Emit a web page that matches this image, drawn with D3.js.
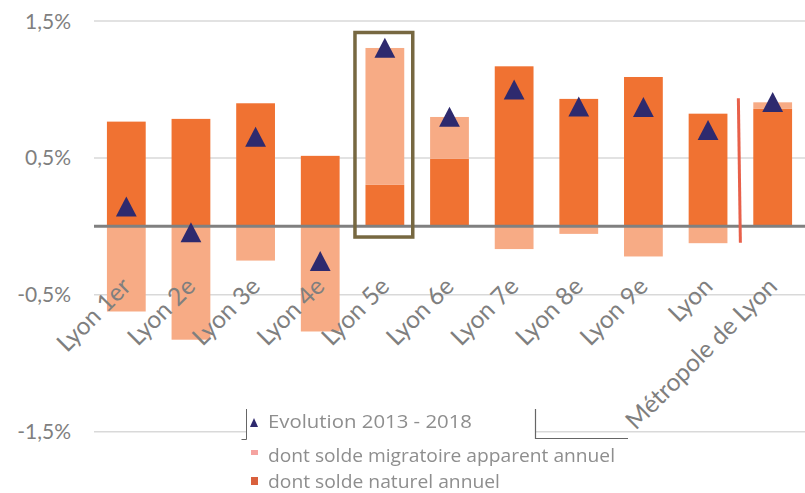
<!doctype html>
<html lang="fr">
<head>
<meta charset="utf-8" />
<title>Évolution de la population 2013 - 2018</title>
<script src="https://cdn.jsdelivr.net/npm/d3@7/dist/d3.min.js"></script>
<style>
  html, body { margin: 0; padding: 0; background: #fff; }
  svg { display: block; font-family: "Lato", "Open Sans", sans-serif; }
  .tick-label { fill: #7f7f7f; font-size: 21px; }
  .cat-label { fill: #7f7f7f; font-size: 24.5px; }
  .legend text { fill: #8e8e8e; font-size: 19px; font-family: "Open Sans", sans-serif; }
</style>
</head>
<body>
<svg id="chart" width="805" height="493"></svg>
<script>
// values, in % per year
const categories = ['Lyon 1er', 'Lyon 2e', 'Lyon 3e', 'Lyon 4e', 'Lyon 5e', 'Lyon 6e',
  'Lyon 7e', 'Lyon 8e', 'Lyon 9e', 'Lyon', 'Métropole de Lyon'];
const soldeNaturel = [0.765, 0.785, 0.899, 0.515, 0.303, 0.493, 1.169, 0.931, 1.091, 0.823, 0.858];
const soldeMigratoire = [-0.622, -0.828, -0.250, -0.768, 1.000, 0.306, -0.166, -0.055, -0.220, -0.123, 0.048];
const evolution = [0.145, -0.044, 0.655, -0.254, 1.304, 0.800, 0.999, 0.875, 0.872, 0.704, 0.909];
const yTicks = [1.5, 0.5, -0.5, -1.5];
const legendLabels = ['Evolution 2013 - 2018', 'dont solde migratoire apparent annuel', 'dont solde naturel annuel'];

const W = 805, H = 493;
const C = {
  naturel: '#f07232',
  migratoire: '#f7ab85',
  evo: '#2e2a6e',
  grid: '#d9d9d9',
  zero: '#808080',
  box: '#776841',
  sep: '#e8604a',
};

const svg = d3.select('#chart');

const x = d3.scaleBand().domain(categories).range([94, W]).paddingInner(0.4).paddingOuter(0.2);
const y = d3.scaleLinear().domain([-1.5, 1.5]).range([431.7, 21]);

// gridlines + tick labels
svg.append('g').selectAll('line').data(yTicks).join('line')
  .attr('x1', 94).attr('x2', W)
  .attr('y1', d => y(d)).attr('y2', d => y(d))
  .attr('stroke', C.grid).attr('stroke-width', 1.5);

const fmt = d => d3.format('.1f')(d).replace('.', ',').replace('−', '-') + '%';
svg.append('g').selectAll('text').data(yTicks).join('text')
  .attr('class', 'tick-label')
  .attr('x', 71).attr('y', d => y(d)).attr('dy', '0.36em')
  .attr('text-anchor', 'end')
  .text(fmt);

// stacked bars (natural at the base, migratory stacked / diverging)
const rows = categories.map((c, i) => ({ cat: c, naturel: soldeNaturel[i], migratoire: soldeMigratoire[i] }));
const stack = d3.stack().keys(['naturel', 'migratoire']).offset(d3.stackOffsetDiverging);
const series = stack(rows);

svg.append('g').selectAll('g').data(series).join('g')
  .attr('fill', s => C[s.key])
  .selectAll('rect').data(s => s).join('rect')
  .attr('x', d => x(d.data.cat))
  .attr('width', x.bandwidth())
  .attr('y', d => y(Math.max(d[0], d[1])))
  .attr('height', d => Math.abs(y(d[0]) - y(d[1])));

// zero line
svg.append('line')
  .attr('x1', 94).attr('x2', W).attr('y1', y(0)).attr('y2', y(0))
  .attr('stroke', C.zero).attr('stroke-width', 3);

// separator between Lyon and Métropole
const sepX = x('Lyon') + x.bandwidth() + x.step() * x.paddingInner() / 2;
svg.append('line')
  .attr('x1', sepX - 2).attr('x2', sepX)
  .attr('y1', y(0.935)).attr('y2', y(-0.12))
  .attr('stroke', C.sep).attr('stroke-width', 3);

// highlight box around Lyon 5e
const hb = 'Lyon 5e';
svg.append('rect')
  .attr('x', x(hb) - 10.5).attr('width', x.bandwidth() + 19)
  .attr('y', y(1.416)).attr('height', y(-0.078) - y(1.416))
  .attr('fill', 'none').attr('stroke', C.box).attr('stroke-width', 3.5);

// evolution markers
const tri = 'M0,-10L10.4,10L-10.4,10Z';
svg.append('g').selectAll('path').data(evolution).join('path')
  .attr('d', tri)
  .attr('transform', (d, i) => `translate(${x(categories[i]) + x.bandwidth() / 2},${y(d)})`)
  .attr('fill', C.evo);

// category labels
svg.append('g').selectAll('text').data(categories).join('text')
  .attr('class', 'cat-label')
  .attr('text-anchor', 'end')
  .attr('transform', d => `translate(${x(d) + x.bandwidth() / 2 + 6},${y(-0.45)}) rotate(-45)`)
  .text(d => d);

// legend (pasted-in block in the original)
const lg = svg.append('g').attr('class', 'legend');
lg.append('rect').attr('x', 247).attr('y', 410).attr('width', 288).attr('height', H - 410).attr('fill', '#fff');
lg.append('rect').attr('x', 535).attr('y', 439).attr('width', 93).attr('height', H - 439).attr('fill', '#fff');
lg.append('path').attr('d', 'M246.5,409V439.5H241.5').attr('fill', 'none').attr('stroke', '#666').attr('stroke-width', 1);
lg.append('path').attr('d', 'M535.5,409V438.5H628').attr('fill', 'none').attr('stroke', '#666').attr('stroke-width', 1.2);

const blur = svg.append('defs').append('filter').attr('id', 'soft');
blur.append('feGaussianBlur').attr('stdDeviation', 0.6);

const lgItems = lg.append('g').attr('filter', 'url(#soft)');
const lgY = [428, 461.5, 488];
const lgW = [204, 347, 232];
lgItems.append('path').attr('d', 'M254,418L258,427H250Z').attr('fill', C.evo);
lgItems.append('rect').attr('x', 251).attr('y', 450).attr('width', 7).attr('height', 5).attr('fill', '#f5a3a0');
lgItems.append('rect').attr('x', 251).attr('y', 477).attr('width', 7).attr('height', 8).attr('fill', '#d9603e');
lgItems.selectAll('text').data(legendLabels).join('text')
  .attr('x', 268).attr('y', (d, i) => lgY[i])
  .attr('textLength', (d, i) => lgW[i]).attr('lengthAdjust', 'spacingAndGlyphs')
  .text(d => d);
</script>
</body>
</html>
